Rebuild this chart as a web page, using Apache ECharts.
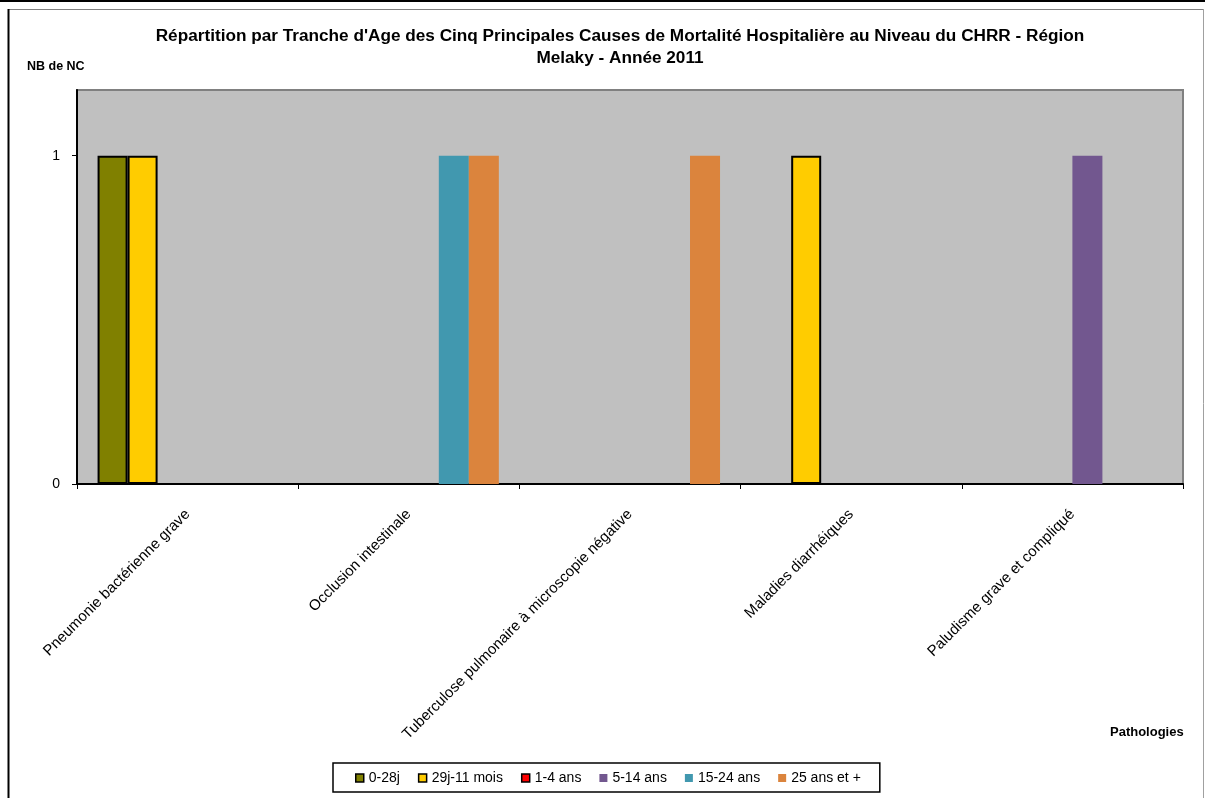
<!DOCTYPE html>
<html>
<head>
<meta charset="utf-8">
<script src="https://cdn.jsdelivr.net/npm/echarts@6/dist/echarts.min.js"></script>
<style>
html,body{margin:0;padding:0;background:#fff;}
#main{width:1205px;height:798px;}
</style>
</head>
<body>
<div id="main"></div>
<script>
const categories = [
  "Pneumonie bactérienne grave",
  "Occlusion intestinale",
  "Tuberculose pulmonaire à microscopie négative",
  "Maladies diarrhéiques",
  "Paludisme grave et compliqué"
];
const seriesNames = ["0-28j", "29j-11 mois", "1-4 ans", "5-14 ans", "15-24 ans", "25 ans et +"];
const s0_28j = [1, 0, 0, 0, 0];
const s29j_11mois = [1, 0, 0, 1, 0];
const s1_4ans = [0, 0, 0, 0, 0];
const s5_14ans = [0, 0, 0, 0, 1];
const s15_24ans = [0, 1, 0, 0, 0];
const s25plus = [0, 1, 1, 0, 0];
const yTicks = [0, 1];

const seriesValues = [s0_28j, s29j_11mois, s1_4ans, s5_14ans, s15_24ans, s25plus];
const colors = ["#808000", "#FFCC00", "#FF0000", "#72578F", "#4198AF", "#DB843D"];
const bordered = [true, true, true, false, false, false];

const chart = echarts.init(document.getElementById('main'));
const FONT = "'Liberation Sans', Arial, sans-serif";

const series = seriesNames.map((name, i) => ({
  name: name,
  type: 'bar',
  barGap: '0%',
  barCategoryGap: '18.6%',
  data: seriesValues[i].map(v => v === 0 ? null : v),
  itemStyle: {
    color: colors[i],
    borderColor: bordered[i] ? '#000' : colors[i],
    borderWidth: bordered[i] ? 2 : 0
  },
  emphasis: { disabled: true },
  animation: false
}));

const option = {
  animation: false,
  textStyle: { fontFamily: FONT },
  title: {
    text: "Répartition par Tranche d'Age des Cinq Principales Causes de Mortalité Hospitalière au Niveau du CHRR - Région\nMelaky - Année 2011",
    left: 615,
    textAlign: 'center',
    top: 20,
    textStyle: { fontFamily: FONT, fontSize: 17.2, fontWeight: 'bold', color: '#000', lineHeight: 22 }
  },
  legend: {
    data: seriesNames.map((n, i) => ({
      name: n,
      itemStyle: { borderColor: bordered[i] ? '#000' : colors[i], borderWidth: bordered[i] ? 1.5 : 0 }
    })),
    left: 333,
    bottom: 6,
    icon: 'rect',
    itemWidth: 8,
    itemHeight: 8,
    itemGap: 18,
    padding: [8, 19, 7, 22],
    borderColor: '#000',
    borderWidth: 1.5,
    textStyle: { fontFamily: FONT, fontSize: 14, color: '#000' }
  },
  grid: {
    left: 77, right: 22, top: 90, bottom: 314,
    show: true,
    backgroundColor: '#C0C0C0',
    borderColor: '#808080',
    borderWidth: 2
  },
  xAxis: {
    type: 'category',
    data: categories,
    axisLine: { lineStyle: { color: '#000', width: 2 } },
    axisTick: { show: true, length: 5, lineStyle: { color: '#000' } },
    axisLabel: { rotate: 45, margin: 28, fontSize: 15, color: '#000', fontFamily: FONT, interval: 0 }
  },
  yAxis: {
    type: 'value',
    min: 0,
    max: 1.2,
    interval: 1,
    splitLine: { show: false },
    axisLine: { show: true, lineStyle: { color: '#000', width: 2 } },
    axisTick: { show: true, length: 5, lineStyle: { color: '#000' }, customValues: yTicks },
    axisLabel: {
      fontSize: 14, color: '#000', fontFamily: FONT, margin: 17,
      customValues: yTicks
    }
  },
  graphic: [
    { type: 'rect', shape: { x: 0, y: 0, width: 1205, height: 2 }, style: { fill: '#000' }, silent: true },
    { type: 'line', shape: { x1: 8, y1: 9.5, x2: 1204, y2: 9.5 }, style: { stroke: '#808080', lineWidth: 1 }, silent: true },
    { type: 'line', shape: { x1: 8.5, y1: 9, x2: 8.5, y2: 798 }, style: { stroke: '#000', lineWidth: 2 }, silent: true },
    { type: 'line', shape: { x1: 1203.5, y1: 9, x2: 1203.5, y2: 798 }, style: { stroke: '#A0A0A0', lineWidth: 1 }, silent: true },
    { type: 'text', left: 27, top: 60, style: { text: 'NB de NC', font: "bold 12.5px 'Liberation Sans', Arial, sans-serif", fill: '#000' } },
    { type: 'text', left: 1110, top: 726, style: { text: 'Pathologies', font: "bold 13px 'Liberation Sans', Arial, sans-serif", fill: '#000' } }
  ],
  series: series
};
chart.setOption(option);
</script>
</body>
</html>
